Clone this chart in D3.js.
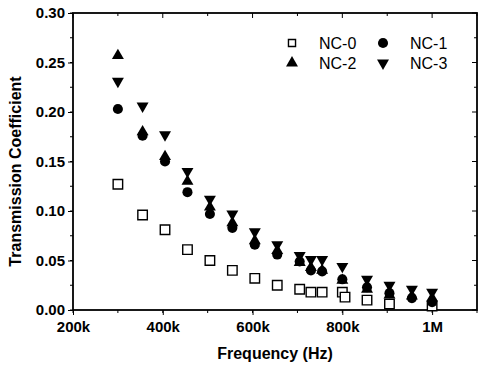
<!DOCTYPE html>
<html>
<head>
<meta charset="utf-8">
<script src="https://cdn.jsdelivr.net/npm/d3@7"></script>
<style>
  body { margin: 0; background: #fff; }
  svg { display: block; font-family: 'Liberation Sans', Arial, sans-serif; }
</style>
</head>
<body>
<svg width="478" height="367"></svg>
<script>
// frequencies in kHz
const freqs = [300, 355, 405, 455, 505, 555, 605, 655, 705, 730, 755, 800, 855, 905, 955, 1000]
const nc0Freqs = [300, 355, 405, 455, 505, 555, 605, 655, 705, 730, 755, 800, 806, 855, 905, 1000]
const nc0 = [0.127, 0.096, 0.081, 0.061, 0.050, 0.040, 0.032, 0.025, 0.021, 0.018, 0.018, 0.018, 0.013, 0.010, 0.006, 0.004]
const nc1 = [0.203, 0.176, 0.150, 0.119, 0.097, 0.083, 0.066, 0.056, 0.049, 0.040, 0.039, 0.031, 0.023, 0.017, 0.012, 0.008]
const nc2 = [0.257, 0.180, 0.155, 0.130, 0.104, 0.088, 0.070, 0.060, 0.048, 0.043, 0.040, 0.030, 0.021, 0.015, 0.014, 0.012]
const nc3 = [0.231, 0.206, 0.177, 0.140, 0.112, 0.097, 0.079, 0.066, 0.055, 0.051, 0.051, 0.044, 0.031, 0.025, 0.021, 0.018]

const xTicks = [200, 400, 600, 800, 1000]
const yTicks = [0, 0.05, 0.1, 0.15, 0.2, 0.25, 0.3]
const seriesNames = ['NC-0', 'NC-1', 'NC-2', 'NC-3']

const mLeft = 73, mRight = 477, mTop = 13, mBottom = 310

const svg = d3.select('svg')
const x = d3.scaleLinear().domain([200, 1100]).range([mLeft, mRight])
const y = d3.scaleLinear().domain([0, 0.3]).range([mBottom, mTop])

const fmtX = (d) => (d >= 1000 ? d / 1000 + 'M' : d + 'k')

// axes
const minorX = d3.range(200, 1101, 100)
const minorY = d3.range(0, 0.301, 0.025)

const xAxis = svg.append('g')
  .attr('transform', `translate(0, ${mBottom})`)
  .call(d3.axisBottom(x).tickValues(xTicks).tickFormat(fmtX).tickSize(5).tickSizeOuter(0).tickPadding(6))
xAxis.selectAll('.tick text').attr('font-size', 15).attr('font-weight', 'bold')
xAxis.append('g').selectAll('line').data(minorX).join('line')
  .attr('x1', (d) => x(d)).attr('x2', (d) => x(d)).attr('y1', 0).attr('y2', 3)
  .attr('stroke', '#000')

const yAxis = svg.append('g')
  .attr('transform', `translate(${mLeft}, 0)`)
  .call(d3.axisLeft(y).tickValues(yTicks).tickFormat(d3.format('.2f')).tickSize(5).tickSizeOuter(0).tickPadding(3))
yAxis.selectAll('.tick text').attr('font-size', 15).attr('font-weight', 'bold')
yAxis.append('g').selectAll('line').data(minorY).join('line')
  .attr('y1', (d) => y(d)).attr('y2', (d) => y(d)).attr('x1', 0).attr('x2', -3)
  .attr('stroke', '#000')

// top and right ticks (inward)
svg.append('g').selectAll('line').data(minorX).join('line')
  .attr('x1', (d) => x(d)).attr('x2', (d) => x(d)).attr('y1', mTop).attr('y2', (d) => mTop + (d % 200 === 0 ? 5 : 3))
  .attr('stroke', '#000')
svg.append('g').selectAll('line').data(minorY).join('line')
  .attr('y1', (d) => y(d)).attr('y2', (d) => y(d)).attr('x1', mRight).attr('x2', (d, i) => mRight - (i % 2 === 0 ? 5 : 3))
  .attr('stroke', '#000')

svg.selectAll('.domain').remove()
svg.append('rect')
  .attr('x', mLeft).attr('y', mTop).attr('width', mRight - mLeft).attr('height', mBottom - mTop)
  .attr('fill', 'none').attr('stroke', '#000').attr('stroke-width', 1.8)

// titles
svg.append('text')
  .attr('x', (mLeft + mRight) / 2).attr('y', 359)
  .attr('text-anchor', 'middle').attr('font-size', 16).attr('font-weight', 'bold')
  .text('Frequency (Hz)')
svg.append('text')
  .attr('transform', `translate(21, ${(mTop + mBottom) / 2 + 10}) rotate(-90)`)
  .attr('text-anchor', 'middle').attr('font-size', 16).attr('font-weight', 'bold')
  .text('Transmission Coefficient')

// markers
const sym = {
  'NC-0': d3.symbol().type(d3.symbolSquare).size(90),
  'NC-1': d3.symbol().type(d3.symbolCircle).size(80),
  'NC-2': d3.symbol().type(d3.symbolTriangle).size(62),
  'NC-3': d3.symbol().type(d3.symbolTriangle).size(62),
}
const rot = { 'NC-0': 0, 'NC-1': 0, 'NC-2': 0, 'NC-3': 180 }

const series = [
  { name: 'NC-0', f: nc0Freqs, v: nc0 },
  { name: 'NC-1', f: freqs, v: nc1 },
  { name: 'NC-2', f: freqs, v: nc2 },
  { name: 'NC-3', f: freqs, v: nc3 },
]

const styleMark = (sel, name) => {
  sel.attr('d', sym[name]())
  if (name === 'NC-0') sel.attr('fill', '#fff').attr('stroke', '#000').attr('stroke-width', 1.4)
  else sel.attr('fill', '#000')
}

const dataG = svg.append('g')
series.forEach((s) => {
  dataG.append('g').selectAll('path')
    .data(s.f.map((f, i) => ({ f, v: s.v[i] })))
    .join('path')
    .attr('transform', (d) => `translate(${x(d.f)}, ${y(d.v)}) rotate(${rot[s.name]})`)
    .call(styleMark, s.name)
})

// legend
const legend = svg.append('g')
  .selectAll('g').data(seriesNames).join('g')
  .attr('transform', (d, i) => `translate(${292 + (i % 2) * 91}, ${43 + Math.floor(i / 2) * 20})`)
legend.append('path')
  .attr('transform', (d) => `rotate(${rot[d]})`)
  .each(function (d) { d3.select(this).call(styleMark, d) })
legend.selectAll('path').filter((d) => d === 'NC-0').attr('d', d3.symbol().type(d3.symbolSquare).size(50)())
legend.append('text')
  .attr('x', 27).attr('y', 6)
  .attr('font-size', 16)
  .text((d) => d)
</script>
</body>
</html>
